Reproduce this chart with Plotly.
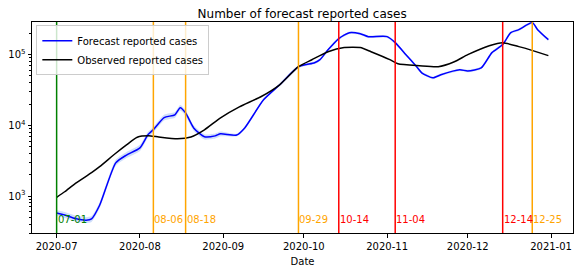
import plotly.graph_objects as go
import numpy as np

forecast_dates = ["2020-07-01","2020-07-04","2020-07-08","2020-07-12","2020-07-14","2020-07-17","2020-07-23","2020-07-27",
    "2020-08-01","2020-08-04","2020-08-06","2020-08-10","2020-08-14","2020-08-16","2020-08-18","2020-08-21","2020-08-25",
    "2020-08-29","2020-08-31","2020-09-06","2020-09-09","2020-09-16","2020-09-22","2020-09-29","2020-10-05","2020-10-07",
    "2020-10-10","2020-10-14","2020-10-18","2020-10-22","2020-10-25","2020-11-01","2020-11-04","2020-11-08","2020-11-12",
    "2020-11-14","2020-11-18","2020-11-21","2020-11-28","2020-12-01","2020-12-06","2020-12-10","2020-12-14","2020-12-17",
    "2020-12-20","2020-12-25","2020-12-27","2020-12-31"]
forecast = [575, 540, 480, 455, 475, 740, 2950, 3800, 4800, 7400, 8700, 12900, 14100, 17800, 15000, 9200, 6900, 7100, 7600,
    7300, 9200, 23000, 37500, 67500, 77000, 85000, 117000, 169000, 205000, 198000, 180000, 180000, 148000, 100000, 67500,
    55000, 47000, 52000, 61000, 59000, 65000, 107000, 139000, 205000, 226000, 284000, 226000, 163000]
forecast_upper = [630, 595, 530, 500, 520, 810, 3250, 4200, 5300, 8100, 9500, 14100, 15400, 19400, 16400, 10000, 7500, 7700,
    8200, 7600, 9600, 23900, 39000, 70200, 80100, 88400, 121700, 175800, 213200, 205900, 187200, 187200, 153900, 104000,
    70200, 57200, 48900, 54100, 63400, 61400, 67600, 111300, 144600, 213200, 235000, 295400, 235000, 169500]
forecast_lower = [520, 490, 435, 415, 430, 670, 2680, 3450, 4350, 6700, 7900, 11700, 12800, 16200, 13600, 8400, 6300, 6500,
    7000, 7000, 8800, 22100, 36000, 64800, 73900, 81600, 112300, 162200, 196800, 190100, 172800, 172800, 142100, 96000,
    64800, 52800, 45100, 49900, 58600, 56600, 62400, 102700, 133400, 196800, 217000, 272600, 217000, 156500]

observed_dates = ["2020-07-01","2020-07-04","2020-07-08","2020-07-14","2020-07-17","2020-07-23","2020-07-27","2020-07-31",
    "2020-08-05","2020-08-08","2020-08-15","2020-08-20","2020-08-25","2020-08-31","2020-09-07","2020-09-15","2020-09-22",
    "2020-09-29","2020-10-04","2020-10-10","2020-10-16","2020-10-22","2020-10-26","2020-11-02","2020-11-05","2020-11-13",
    "2020-11-20","2020-11-26","2020-12-01","2020-12-09","2020-12-14","2020-12-20","2020-12-24","2020-12-31"]
observed = [960, 1150, 1510, 2140, 2600, 4030, 5290, 6800, 7100, 6850, 6440, 6850, 8640, 12800, 18300, 25400, 37500, 67600,
    84900, 110000, 126000, 126000, 110000, 85000, 74500, 69800, 67600, 79500, 100000, 134000, 148000, 130000, 118000, 97000]

event_dates = ["2020-07-01","2020-08-06","2020-08-18","2020-09-29","2020-10-14","2020-11-04","2020-12-14","2020-12-25"]
event_labels = ["07-01","08-06","08-18","09-29","10-14","11-04","12-14","12-25"]
event_colors = ["green","orange","orange","orange","red","red","red","orange"]

month_ticks = ["2020-07-01","2020-08-01","2020-09-01","2020-10-01","2020-11-01","2020-12-01","2021-01-01"]
month_labels = ["2020-07","2020-08","2020-09","2020-10","2020-11","2020-12","2021-01"]

fig = go.Figure()
fig.add_trace(go.Scatter(x=forecast_dates, y=forecast_upper, mode="lines", line=dict(width=0, shape="spline", smoothing=0.6),
                         showlegend=False, hoverinfo="skip"))
fig.add_trace(go.Scatter(x=forecast_dates, y=forecast_lower, mode="lines", line=dict(width=0, shape="spline", smoothing=0.6),
                         fill="tonexty", fillcolor="rgba(100,149,237,0.3)", showlegend=False, hoverinfo="skip"))
fig.add_trace(go.Scatter(x=forecast_dates, y=forecast, mode="lines", name="Forecast reported cases",
                         line=dict(color="blue", width=1.5, shape="spline", smoothing=0.6)))
fig.add_trace(go.Scatter(x=observed_dates, y=observed, mode="lines", name="Observed reported cases",
                         line=dict(color="black", width=1.5, shape="spline", smoothing=0.6)))

for d, lab, c in zip(event_dates, event_labels, event_colors):
    fig.add_shape(type="line", x0=d, x1=d, xref="x", y0=0, y1=1, yref="paper", line=dict(color=c, width=1.5))
    fig.add_annotation(x=d, xref="x", y=0.066, yref="paper", text=lab, showarrow=False, xanchor="left", yanchor="middle",
                       xshift=-1, font=dict(color=c, size=10))

minor_vals = [m * 10**e for e in [2, 3, 4, 5] for m in range(2, 10)]
fig.update_layout(
    width=581, height=270,
    margin=dict(l=32, r=8, t=22, b=37, autoexpand=False),
    paper_bgcolor="white", plot_bgcolor="white",
    font=dict(family="DejaVu Sans", size=10, color="black"),
    title=dict(text="Number of forecast reported cases", x=0.52, xanchor="center", y=0.95, yanchor="middle",
               font=dict(size=12)),
    legend=dict(x=0.008, y=0.985, xanchor="left", yanchor="top", bgcolor="rgba(255,255,255,0.8)",
                bordercolor="#cccccc", borderwidth=1, font=dict(size=10), tracegroupgap=0, traceorder="normal",
                itemwidth=30),
    xaxis=dict(range=["2020-06-21 20:00", "2021-01-09 04:00"], tickvals=month_ticks, ticktext=month_labels,
               showgrid=False, zeroline=False, showline=True, linecolor="black", linewidth=1, mirror=True,
               ticks="outside", ticklen=3.5, tickcolor="black", automargin=False,
               title=dict(text="Date", standoff=7, font=dict(size=10))),
    yaxis=dict(type="log", range=[np.log10(300), np.log10(290000)], tickvals=[1e3, 1e4, 1e5],
               ticktext=["10<sup>3</sup>", "10<sup>4</sup>", "10<sup>5</sup>"], automargin=False,
               showgrid=False, zeroline=False, showline=True, linecolor="black", linewidth=1, mirror=True,
               ticks="outside", ticklen=3.5, tickcolor="black",
               minor=dict(tickvals=minor_vals, ticks="outside", ticklen=2, tickcolor="black", showgrid=False)),
)
fig.write_html("out.html", config={"displayModeBar": False},
               post_script="document.body.style.margin='0';document.body.style.padding='0';")
